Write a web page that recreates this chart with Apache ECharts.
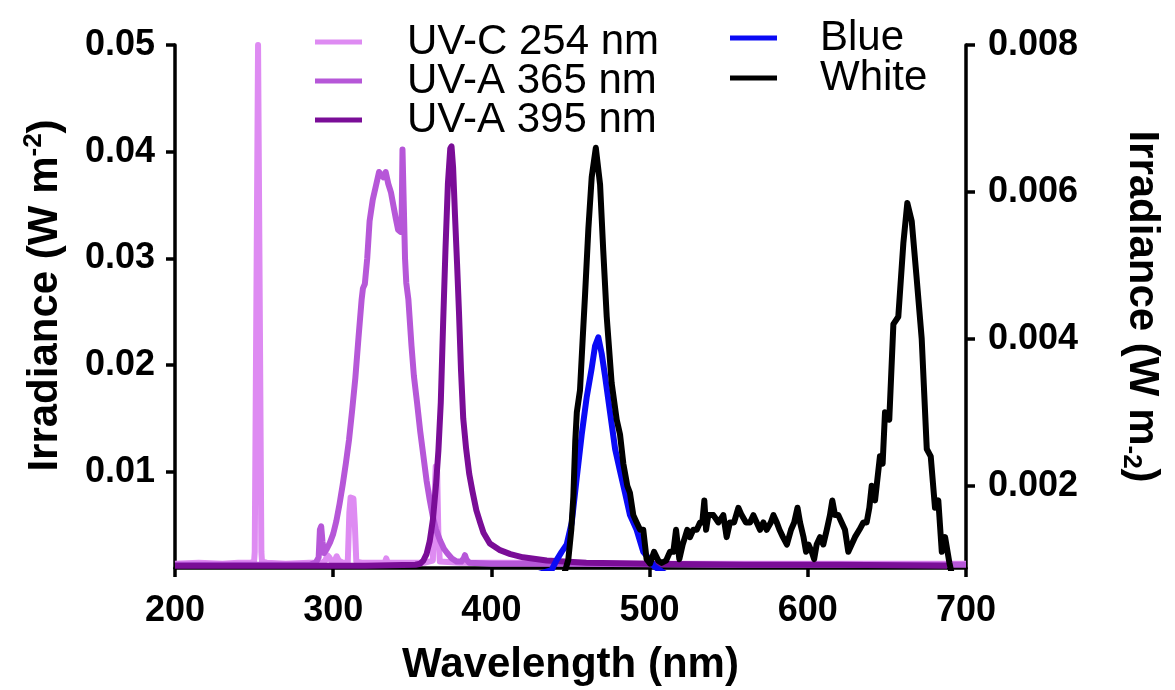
<!DOCTYPE html>
<html>
<head>
<meta charset="utf-8">
<script src="https://cdn.jsdelivr.net/npm/echarts@6/dist/echarts.min.js"></script>
<style>
  html, body { margin: 0; padding: 0; background: #fff; }
  #chart { width: 1175px; height: 690px; }
</style>
</head>
<body>
<div id="chart"></div>
<script>
// wavelengths (nm) and irradiance (W m-2)
var uvcWl  = [200, 215, 230, 240, 248, 250.0, 250.4, 252.5, 254.6, 255.0, 258, 270, 285, 293, 295, 296.3, 297.5, 299, 301, 302.2, 303.5, 306, 309.2, 310.2, 311, 312.8, 313.7, 314.6, 318, 326, 332.6, 333.5, 334.5, 345, 358, 363, 363.9, 364.8, 365.7, 366.5, 367.4, 380, 420, 500, 600, 700];
var uvcIrr = [0.0014, 0.0015, 0.0014, 0.0015, 0.0015, 0.0016, 0.0025, 0.0500, 0.0025, 0.0016, 0.0015, 0.0014, 0.0015, 0.0015, 0.0017, 0.0022, 0.0020, 0.0016, 0.0017, 0.0021, 0.0017, 0.0015, 0.0015, 0.0062, 0.0076, 0.0075, 0.0050, 0.0016, 0.0015, 0.0015, 0.0015, 0.0019, 0.0015, 0.0015, 0.0015, 0.0017, 0.0070, 0.0105, 0.0100, 0.0040, 0.0016, 0.0015, 0.0015, 0.0014, 0.0014, 0.0014];

var uva365Wl  = [200, 240, 285, 289, 290.8, 291.6, 292.4, 293.2, 294.2, 296, 298, 300, 302, 304, 306, 308, 310, 312, 314, 316, 318, 318.8, 320, 321.5, 323, 325, 327, 329, 330.5, 331.7, 333.2, 334.8, 336.5, 338, 339.5, 341, 342.5, 343.2, 343.8, 344.6, 345.4, 346.2, 347.5, 349.5, 351, 353, 355, 357, 359, 361, 363, 365, 367.5, 370, 372, 375, 378, 381, 382.5, 383.3, 384.2, 386, 400, 450, 550, 700];
var uva365Irr = [0.0013, 0.0013, 0.0013, 0.0015, 0.0020, 0.0046, 0.0049, 0.0035, 0.0024, 0.0028, 0.0034, 0.0042, 0.0054, 0.0070, 0.0088, 0.0108, 0.0130, 0.0158, 0.0188, 0.0226, 0.0262, 0.0272, 0.0276, 0.0300, 0.0335, 0.0355, 0.0368, 0.0381, 0.0378, 0.0376, 0.0381, 0.0370, 0.0362, 0.0350, 0.0338, 0.0327, 0.0325, 0.0330, 0.0402, 0.0402, 0.0300, 0.0277, 0.0262, 0.0218, 0.0190, 0.0165, 0.0138, 0.0115, 0.0092, 0.0074, 0.0058, 0.0046, 0.0036, 0.0028, 0.0024, 0.0019, 0.0016, 0.0016, 0.0019, 0.0022, 0.0018, 0.0015, 0.0014, 0.0014, 0.0013, 0.0013];

var uva395Wl  = [200, 260, 320, 352, 355, 357, 359, 361, 363, 365, 366.5, 368, 369.5, 371, 372.5, 374, 374.8, 375.8, 377, 378.3, 379.5, 380.8, 382.2, 384, 386, 388, 390.5, 393, 395, 399, 405, 412, 420, 435, 460, 500, 560, 620, 688];
var uva395Irr = [0.0012, 0.0012, 0.0012, 0.0013, 0.0014, 0.0017, 0.0023, 0.0035, 0.0055, 0.0088, 0.0120, 0.0165, 0.0240, 0.0310, 0.0370, 0.0403, 0.0405, 0.0385, 0.0340, 0.0295, 0.0250, 0.0195, 0.0150, 0.0122, 0.0098, 0.0082, 0.0064, 0.0052, 0.0043, 0.0033, 0.0027, 0.0023, 0.0020, 0.0017, 0.0015, 0.0014, 0.0013, 0.0013, 0.0012];

var blueWl  = [430, 438, 441.3, 444.4, 447.6, 450.8, 453.9, 457.1, 460.2, 463.4, 465.5, 467.6, 469.7, 471.8, 475, 478.2, 481.3, 484.5, 487.6, 491.8, 496, 500.3, 503, 510];
var blueIrr = [0.0008, 0.00085, 0.00099, 0.0011, 0.0012, 0.0015, 0.0021, 0.0027, 0.0032, 0.0036, 0.0039, 0.00402, 0.0038, 0.0035, 0.0030, 0.0025, 0.0022, 0.0019, 0.0016, 0.0014, 0.0011, 0.00099, 0.0009, 0.0008];

var whiteWl  = [440, 446, 448.6, 450.5, 451.8, 453, 454, 456, 457.7, 459.2, 461.3, 463.4, 466, 468.7, 470.7, 472.9, 476, 479.2, 481.3, 483.4, 485.9, 487.6, 489.7, 491.8, 494, 496, 498.1, 500.3, 502.8, 505.5, 507.6, 510.4, 512.9, 515, 516.7, 518.8, 520.9, 522.4, 523.8, 525.5, 527.6, 529.8, 531.9, 533.3, 534.6, 535.7, 537.1, 540.3, 543.5, 546.6, 548.7, 550.8, 553.4, 556.1, 558.2, 560.9, 563.5, 565.6, 567.7, 569.8, 571.9, 574, 576.6, 578.3, 580.4, 582.1, 584.3, 586.8, 589.4, 591.4, 593.5, 595.1, 597.3, 598.9, 600.4, 602.5, 604, 605.6, 607.7, 609.8, 612, 614, 615.5, 617.2, 619.3, 621.4, 623.5, 625.6, 627.7, 629.8, 632.6, 635.1, 637.2, 638.9, 640.4, 642.5, 645.6, 647.3, 648.8, 651.5, 654.1, 657.2, 660.4, 662.9, 665.7, 668.9, 672, 675.2, 677.7, 680.4, 682.5, 684.7, 686.8, 689.5, 692];
var whiteIrr = [0.0007, 0.0008, 0.00099, 0.0014, 0.00185, 0.0026, 0.0030, 0.0033, 0.0040, 0.0046, 0.0055, 0.0062, 0.0066, 0.0061, 0.0052, 0.0043, 0.0034, 0.0029, 0.0027, 0.0023, 0.0020, 0.0019, 0.0016, 0.0015, 0.0014, 0.0014, 0.0010, 0.00094, 0.0011, 0.00098, 0.00095, 0.00098, 0.0011, 0.0011, 0.0014, 0.0010, 0.0012, 0.0013, 0.0014, 0.0013, 0.0014, 0.0014, 0.0015, 0.0015, 0.0018, 0.0014, 0.0016, 0.0016, 0.0015, 0.0016, 0.0013, 0.0015, 0.0015, 0.0017, 0.0016, 0.0015, 0.0015, 0.0016, 0.0015, 0.0014, 0.0015, 0.0014, 0.0015, 0.0016, 0.0015, 0.0014, 0.0013, 0.0012, 0.0014, 0.0015, 0.0017, 0.0015, 0.0013, 0.0011, 0.0012, 0.0011, 0.0010, 0.0012, 0.0013, 0.0012, 0.0014, 0.0016, 0.0018, 0.0016, 0.0016, 0.0015, 0.0014, 0.0011, 0.0012, 0.0013, 0.0014, 0.0015, 0.0015, 0.0017, 0.0020, 0.0018, 0.0024, 0.0023, 0.0030, 0.0029, 0.0042, 0.0043, 0.0053, 0.00585, 0.0056, 0.0048, 0.0040, 0.0025, 0.0024, 0.0017, 0.0018, 0.0011, 0.0013, 0.00095, 0.0007];

var xTicks = [200, 300, 400, 500, 600, 700];
var leftTicks = [0.01, 0.02, 0.03, 0.04, 0.05];
var rightTicks = [0.002, 0.004, 0.006, 0.008];

function pairs(xs, ys) {
  var out = [];
  for (var i = 0; i < xs.length; i++) out.push([xs[i], ys[i]]);
  return out;
}

var font = "'Liberation Sans', Arial, sans-serif";
var axisLine = { show: true, onZero: false, lineStyle: { color: '#000', width: 3.5 } };
var axisTick = { show: true, inside: false, length: 9, lineStyle: { color: '#000', width: 3.5 } };
var tickFont = { color: '#000', fontFamily: font, fontWeight: 'bold', fontSize: 36 };

function line(name, xs, ys, color, yIdx) {
  return {
    name: name, type: 'line', yAxisIndex: yIdx,
    data: pairs(xs, ys),
    symbol: 'none', showSymbol: false, smooth: false, clip: true,
    lineStyle: { color: color, width: 6, join: 'round' },
    itemStyle: { color: color }
  };
}

var chart = echarts.init(document.getElementById('chart'));
chart.setOption({
  animation: false,
  backgroundColor: '#fff',
  grid: { left: 175, right: 209, top: 45, bottom: 122, containLabel: false, outerBoundsMode: 'none' },
  legend: [
    {
      data: ['UV-C 254 nm', 'UV-A 365 nm', 'UV-A 395 nm'],
      orient: 'vertical', left: 310, top: 16, itemGap: -3,
      icon: 'rect', itemWidth: 47, itemHeight: 5,
      textStyle: { fontFamily: font, fontSize: 42, color: '#000', lineHeight: 40, padding: [0, 0, 0, 40] }
    },
    {
      data: ['Blue', 'White'],
      orient: 'vertical', left: 725, top: 12, itemGap: -2,
      icon: 'rect', itemWidth: 47, itemHeight: 5,
      textStyle: { fontFamily: font, fontSize: 42, color: '#000', lineHeight: 40, padding: [0, 0, 0, 38] }
    }
  ],
  xAxis: {
    type: 'value', min: 200, max: 700, interval: 100,
    axisLine: axisLine, axisTick: axisTick,
    splitLine: { show: false },
    axisLabel: Object.assign({ margin: 25, customValues: xTicks }, tickFont),
    name: 'Wavelength (nm)', nameLocation: 'middle', nameGap: 76,
    nameTextStyle: { fontFamily: font, fontWeight: 'bold', fontSize: 42, color: '#000' }
  },
  yAxis: [
    {
      type: 'value', position: 'left', min: 0.001, max: 0.05,
      axisLine: axisLine,
      axisTick: Object.assign({ customValues: leftTicks }, axisTick),
      splitLine: { show: false },
      axisLabel: Object.assign({ margin: 20, customValues: leftTicks,
        formatter: function (v) { return v.toFixed(2); } }, tickFont),
      name: '{b|Irradiance (W m}{s|-2}{b|)}', nameLocation: 'middle', nameRotate: 90, nameGap: 106,
      nameTextStyle: {
        padding: [0, 0, 0, 22],
        rich: {
          b: { fontFamily: font, fontWeight: 'bold', fontSize: 42, color: '#000', lineHeight: 48 },
          s: { fontFamily: font, fontWeight: 'bold', fontSize: 26, color: '#000', lineHeight: 28, verticalAlign: 'top' }
        }
      }
    },
    {
      type: 'value', position: 'right', min: 0.00088, max: 0.008,
      axisLine: axisLine,
      axisTick: Object.assign({ customValues: rightTicks }, axisTick),
      splitLine: { show: false },
      axisLabel: Object.assign({ margin: 22, customValues: rightTicks,
        formatter: function (v) { return v.toFixed(3); } }, tickFont),
      name: '{b|Irradiance (W m}{s|-2}{b|)}', nameLocation: 'middle', nameRotate: -90, nameGap: 152,
      nameTextStyle: {
        rich: {
          b: { fontFamily: font, fontWeight: 'bold', fontSize: 42, color: '#000', lineHeight: 48 },
          s: { fontFamily: font, fontWeight: 'bold', fontSize: 26, color: '#000', lineHeight: 28, verticalAlign: 'bottom' }
        }
      }
    }
  ],
  series: [
    line('UV-C 254 nm', uvcWl, uvcIrr, '#de8bf2', 0),
    line('UV-A 365 nm', uva365Wl, uva365Irr, '#b657d8', 0),
    line('UV-A 395 nm', uva395Wl, uva395Irr, '#7a0d97', 0),
    line('Blue', blueWl, blueIrr, '#0a0af5', 1),
    line('White', whiteWl, whiteIrr, '#000000', 1)
  ]
});
</script>
</body>
</html>
